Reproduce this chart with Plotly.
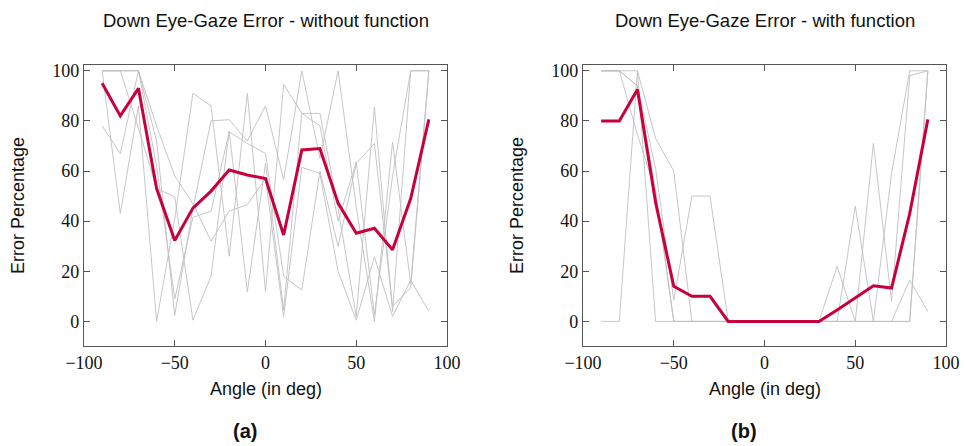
import plotly.graph_objects as go

angles = [-90, -80, -70, -60, -50, -40, -30, -20, -10, 0, 10, 20, 30, 40, 50, 60, 70, 80, 90]

# (a) without function - individual trials
a_trials = [
    [100, 100, 100, 78, 58, 47, 32, 44, 46.6, 57, 2, 61.5, 59, 20, 0.5, 25.8, 2, 16.5, 4],
    [100, 43, 86, 0, 41, 91, 86, 26, 91, 12, 94.6, 83, 83, 45, 2, 85.5, 4, 100, 100],
    [78, 67, 100, 72, 2.5, 45, 80, 80.5, 72, 86, 56.6, 100, 65, 100, 45.7, 0, 71.6, 15, 100],
    [100, 100, 77, 53, 49.7, 0.5, 18, 76, 11.8, 63, 4.5, 83, 78, 40, 63.6, 2.7, 58, 100, 100],
    [100, 100, 100, 62, 9, 41.5, 44, 75.6, 71, 67, 18, 12.5, 60, 30, 63, 71, 6, 13.5, 100],
]
a_mean = [95, 82, 93, 53, 32.3, 45.2, 52, 60.4, 58.4, 57, 34.5, 68.4, 69, 47.2, 35.2, 37.2, 28.6, 49, 80.6]

# (b) with function - individual trials
b_trials = [
    [100, 100, 100, 73, 60, 0, 0, 0, 0, 0, 0, 0, 0, 22, 0, 0, 0, 16.5, 4],
    [100, 100, 94, 61, 8.5, 50, 50, 0, 0, 0, 0, 0, 0, 0, 46, 0, 59, 100, 100],
    [100, 100, 94, 52, 0, 0, 0, 0, 0, 0, 0, 0, 0, 0, 0, 71, 8, 98, 100],
    [100, 100, 74.5, 52, 0, 0, 0, 0, 0, 0, 0, 0, 0, 0, 0, 0, 0, 0, 100],
    [0, 0, 100, 0, 0, 0, 0, 0, 0, 0, 0, 0, 0, 0, 0, 0, 0, 0, 100],
]
b_mean = [80, 80, 92.5, 47.5, 14, 10, 10, 0, 0, 0, 0, 0, 0, 4.6, 9.4, 14.2, 13.3, 43, 80.6]

titles = ["Down Eye-Gaze Error - without function", "Down Eye-Gaze Error - with function"]
sub_labels = ["(a)", "(b)"]
x_ticks = [-100, -50, 0, 50, 100]
x_ticktext = ["\u2212100", "\u221250", "0", "50", "100"]
y_ticks = [0, 20, 40, 60, 80, 100]

W, H = 965, 446
GRAY = "#c0c0c0"
MEAN = "#c8003c"
AX = "#555555"

fig = go.Figure()

panels = [(a_trials, a_mean, "x", "y"), (b_trials, b_mean, "x2", "y2")]
for trials, mean, xa, ya in panels:
    for t in trials:
        fig.add_trace(go.Scatter(x=angles, y=t, mode="lines", xaxis=xa, yaxis=ya,
                                 line=dict(color=GRAY, width=0.9), showlegend=False, hoverinfo="skip"))
    fig.add_trace(go.Scatter(x=angles, y=mean, mode="lines", xaxis=xa, yaxis=ya,
                             line=dict(color=MEAN, width=3), showlegend=False))

px_left = [(84, 447), (583, 946)]
top_px, bot_px = 65, 346
ydom = [1 - bot_px / H, 1 - top_px / H]

tickfont = dict(family="Liberation Serif, DejaVu Serif, serif", size=18, color="#111111")
common_x = dict(range=[-100, 100], tickvals=x_ticks, ticktext=x_ticktext, ticks="inside",
                ticklen=6, tickcolor=AX, showline=True, linecolor=AX, linewidth=1.2,
                mirror="allticks", showgrid=False, zeroline=False, tickfont=tickfont,
                automargin=False)
common_y = dict(range=[-9.8, 102.3], tickvals=y_ticks, ticks="inside", ticklen=6, tickcolor=AX,
                showline=True, linecolor=AX, linewidth=1.2, mirror="allticks", showgrid=False,
                zeroline=False, tickfont=tickfont, domain=ydom, automargin=False)

fig.update_layout(
    width=W, height=H, margin=dict(l=0, r=0, t=0, b=0, autoexpand=False),
    paper_bgcolor="white", plot_bgcolor="white",
    xaxis=dict(domain=[px_left[0][0] / W, px_left[0][1] / W], anchor="y", **common_x),
    yaxis=dict(anchor="x", **common_y),
    xaxis2=dict(domain=[px_left[1][0] / W, px_left[1][1] / W], anchor="y2", **common_x),
    yaxis2=dict(anchor="x2", **common_y),
)

sans = "Liberation Sans, Arial, Helvetica, sans-serif"
anns = []
for i, (l, r) in enumerate(px_left):
    cx = (l + r) / 2
    anns.append(dict(x=cx / W, y=1 - 20 / H, xref="paper", yref="paper", text=titles[i],
                     showarrow=False, font=dict(family=sans, size=18.5, color="#111111"),
                     xanchor="center", yanchor="middle"))
    anns.append(dict(x=cx / W, y=1 - 389 / H, xref="paper", yref="paper", text="Angle (in deg)",
                     showarrow=False, font=dict(family=sans, size=18, color="#111111"),
                     xanchor="center", yanchor="middle"))
    anns.append(dict(x=(l - 66) / W, y=1 - 206 / H, xref="paper", yref="paper", text="Error Percentage",
                     showarrow=False, textangle=-90, font=dict(family=sans, size=18, color="#111111"),
                     xanchor="center", yanchor="middle"))
    anns.append(dict(x=(l + 161) / W, y=1 - 431 / H, xref="paper", yref="paper",
                     text="<b>" + sub_labels[i] + "</b>", showarrow=False,
                     font=dict(family=sans, size=20, color="#111111"),
                     xanchor="center", yanchor="middle"))
fig.update_layout(annotations=anns)

fig.write_html("out.html")
